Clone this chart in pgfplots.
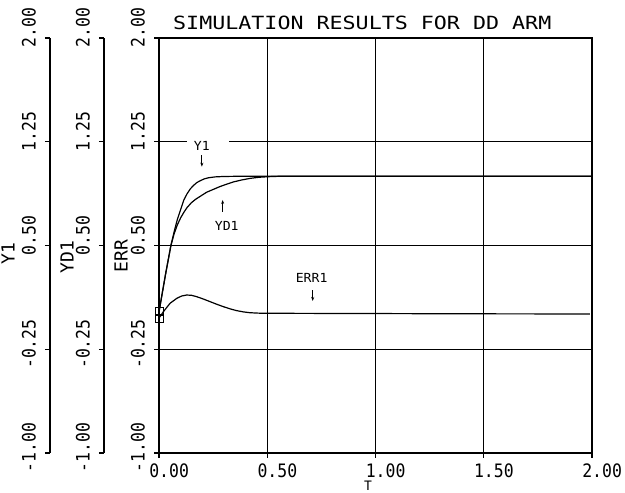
\documentclass[border=0pt]{standalone}
\usepackage{fontspec}
\usepackage{pgfplots}
\pgfplotsset{compat=1.18}
\usetikzlibrary{arrows.meta}
\newfontfamily\titlefont[FakeStretch=1.19]{DejaVu Sans Mono}
\newfontfamily\tickfont[FakeStretch=0.89]{DejaVu Sans Mono}
\newfontfamily\labfont{DejaVu Sans Mono}
\newfontfamily\notefont[FakeStretch=1.05]{DejaVu Sans Mono}

\pgfplotsset{
  plotter/.style={
    anchor=south west, scale only axis, height=415pt,
    ymin=-1, ymax=2,
    ytick={-1,-0.25,0.5,1.25,2},
    yticklabels={\llap{-1}.00,\llap{-0}.25,\llap{0}.50,\llap{1}.25,\llap{2}.00},
    tick align=outside, major tick length=5pt,
    every tick/.append style={black, line width=1.2pt},
    axis line style={black, line width=1.3pt},
    yticklabel style={font=\tickfont\fontsize{18.5}{18.5}\selectfont,
      rotate=90, anchor=south west, inner sep=0pt},
    yticklabel shift=9pt,
  },
  curve/.style={black, line width=1.2pt, mark=square, mark indices={1},
    mark size=4pt, mark options={line width=0.9pt}},
}

\begin{document}
\begin{tikzpicture}
\path[use as bounding box] (0,0) rectangle (625pt,493pt);

% extra y axes for Y1 and YD1
\begin{axis}[plotter, at={(50pt,40pt)}, width=2pt, xmin=0, xmax=1,
  axis y line*=left, axis x line=none]
\end{axis}
\begin{axis}[plotter, at={(104pt,40pt)}, width=2pt, xmin=0, xmax=1,
  axis y line*=left, axis x line=none]
\end{axis}

\begin{axis}[plotter, at={(159pt,40pt)}, width=433pt,
  xmin=0, xmax=2, xtick={0,0.5,1,1.5,2},
  xticklabels={\llap{0}.00,\llap{0}.50,\llap{1}.00,\llap{1}.50,\llap{2}.00},
  xticklabel style={font=\tickfont\fontsize{18.5}{18.5}\selectfont,
    anchor=north west, inner sep=0pt},
  xticklabel shift=6pt,
  tick pos=left, grid=major,
  major grid style={black, line width=1.2pt},
  clip=false]

\addplot[curve] coordinates {
  (0,0.02) (0.03,0.29) (0.055,0.5) (0.07,0.6) (0.085,0.69) (0.1,0.76)
  (0.115,0.83) (0.13,0.875) (0.145,0.91) (0.16,0.935) (0.175,0.955)
  (0.19,0.968) (0.21,0.982) (0.23,0.99) (0.26,0.996) (0.3,0.999)
  (0.35,1.0) (2.0,1.0)};
\addplot[curve] coordinates {
  (0,0.02) (0.03,0.29) (0.055,0.5) (0.07,0.585) (0.085,0.65) (0.1,0.7)
  (0.115,0.74) (0.13,0.775) (0.15,0.81) (0.17,0.835) (0.19,0.855)
  (0.22,0.885) (0.25,0.905) (0.28,0.925) (0.31,0.942) (0.345,0.96)
  (0.38,0.973) (0.42,0.985) (0.46,0.993) (0.5,0.997) (0.55,1.0) (2.0,1.0)};
\addplot[curve] coordinates {
  (0,-0.025) (0.02,0.021) (0.051,0.082) (0.082,0.118) (0.105,0.135)
  (0.128,0.142) (0.15,0.14) (0.174,0.13) (0.205,0.113) (0.236,0.094)
  (0.267,0.075) (0.297,0.058) (0.328,0.042) (0.359,0.029) (0.39,0.02)
  (0.42,0.014) (0.46,0.011) (0.5,0.01) (1.0,0.008) (1.5,0.006) (1.99,0.005)};

% curve labels
\fill[white] (axis cs:0.13,1.19) rectangle (axis cs:0.325,1.31);
\node[font=\notefont\fontsize{12.5}{12.5}\selectfont] at (axis cs:0.198,1.22) {Y1};
\draw[line width=0.8pt, -{Stealth[length=4pt,width=3pt]}] (axis cs:0.198,1.154) -- (axis cs:0.198,1.07);
\node[font=\notefont\fontsize{12.5}{12.5}\selectfont] at (axis cs:0.313,0.641) {YD1};
\draw[line width=0.8pt, -{Stealth[length=4pt,width=3pt]}] (axis cs:0.294,0.745) -- (axis cs:0.294,0.829);
\node[font=\notefont\fontsize{12.5}{12.5}\selectfont] at (axis cs:0.705,0.263) {ERR1};
\draw[line width=0.8pt, -{Stealth[length=4pt,width=3pt]}] (axis cs:0.71,0.178) -- (axis cs:0.71,0.099);
\end{axis}

\node[font=\titlefont\fontsize{18.2}{18.2}\selectfont, anchor=base west, inner sep=0pt]
  at (173pt,463pt) {SIMULATION RESULTS FOR DD ARM};
\node[font=\labfont\fontsize{13}{13}\selectfont, anchor=base, inner sep=0pt]
  at (368pt,2.5pt) {T};
\node[font=\labfont\fontsize{18}{18}\selectfont, rotate=90, inner sep=0pt] at (8pt,239pt) {Y1};
\node[font=\labfont\fontsize{18}{18}\selectfont, rotate=90, inner sep=0pt] at (67pt,236pt) {YD1};
\node[font=\labfont\fontsize{18}{18}\selectfont, rotate=90, inner sep=0pt] at (121pt,237pt) {ERR};
\end{tikzpicture}
\end{document}
